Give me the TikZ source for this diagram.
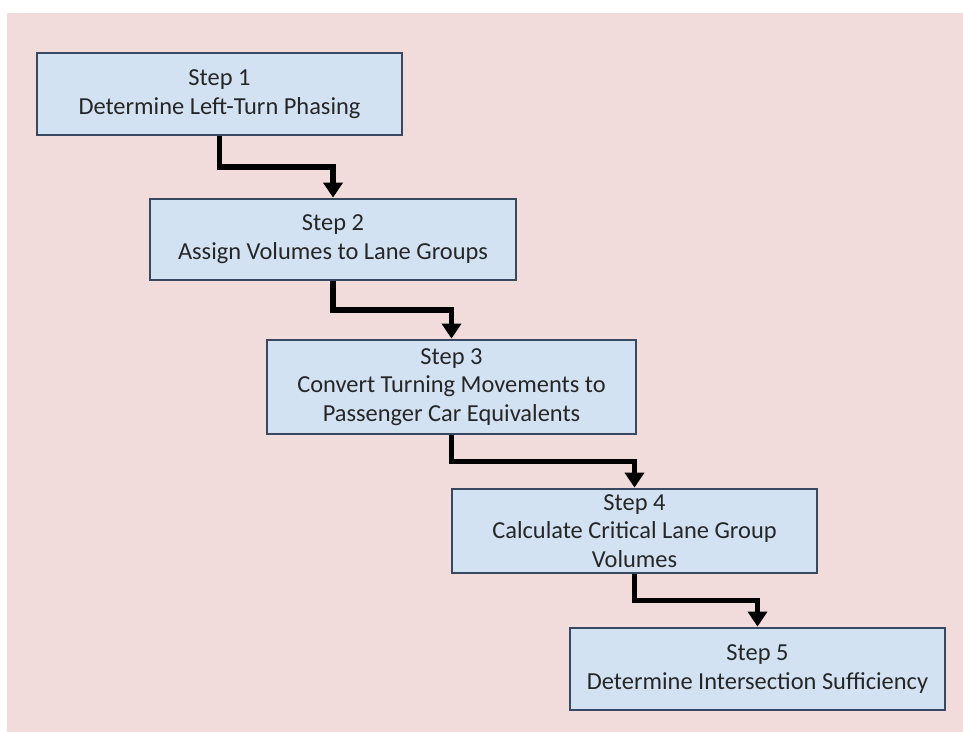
\documentclass[tikz,border=0pt]{standalone}
\usepackage{fontspec}
\setmainfont{Carlito}
\usetikzlibrary{arrows.meta,calc}
\definecolor{bgpink}{HTML}{F2DCDB}
\definecolor{boxblue}{HTML}{D3E2F3}
\definecolor{boxline}{HTML}{384860}
\begin{document}
\begin{tikzpicture}[
        stepbox/.style={draw=boxline, line width=1.6pt, fill=boxblue, align=center, inner sep=0pt,
            font=\fontsize{13.9}{16.4}\selectfont, text=black!85},
        flow/.style={line width=3.2pt, line join=miter, -{Triangle[length=0.3cm,width=0.38cm]}}
    ]
        % page and background
        \useasboundingbox (0,0) rectangle (19.26,-14.64);
        \fill [white] (0,0) rectangle (19.26,-14.64);
        \fill [bgpink] (0.14,-0.26) rectangle (19.26,-14.64);
        % boxes
        \node [stepbox, minimum width=7.30cm, minimum height=1.64cm] (s1) at (4.39,-1.88) {Step 1\\Determine Left-Turn Phasing};
        \node [stepbox, minimum width=7.32cm, minimum height=1.62cm] (s2) at (6.66,-4.79) {Step 2\\Assign Volumes to Lane Groups};
        \node [stepbox, minimum width=7.38cm, minimum height=1.88cm] (s3) at (9.03,-7.74) {Step 3\\Convert Turning Movements to\\Passenger Car Equivalents};
        \node [stepbox, minimum width=7.30cm, minimum height=1.68cm] (s4) at (12.69,-10.62) {Step 4\\Calculate Critical Lane Group\\Volumes};
        \node [stepbox, minimum width=7.50cm, minimum height=1.64cm] (s5) at (15.15,-13.38) {Step 5\\Determine Intersection Sufficiency};
        % arrows
        \draw [flow] (s1.south) |- ($(s1.south)!0.5!(s2.north)$) -| (s2.north);
        \draw [flow] (s2.south) |- ($(s2.south)!0.5!(s3.north)$) -| (s3.north);
        \draw [flow] (s3.south) |- ($(s3.south)!0.5!(s4.north)$) -| (s4.north);
        \draw [flow] (s4.south) |- ($(s4.south)!0.5!(s5.north)$) -| (s5.north);
    \end{tikzpicture}
\end{document}
